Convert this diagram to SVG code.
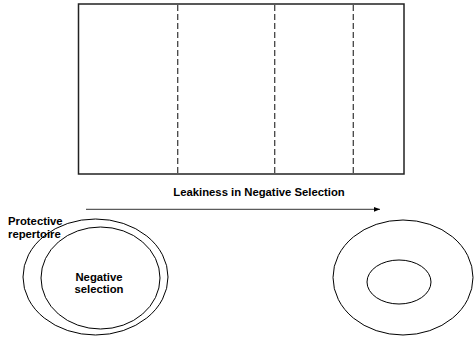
<svg xmlns="http://www.w3.org/2000/svg" width="475" height="347" viewBox="0 0 475 347">
<style>
.lbl{font-family:"Liberation Sans",Arial,sans-serif;font-weight:bold;font-size:11.3px;fill:#000}
.ell{fill:none;stroke:#000;stroke-width:1}
.dash{stroke:#444;stroke-width:1.3;stroke-dasharray:6,3}
</style>
<defs>
<marker id="ah" viewBox="0 0 10 10" refX="10" refY="5" markerWidth="6" markerHeight="6" orient="auto" markerUnits="userSpaceOnUse">
<path d="M0,1 L10,5 L0,9 Z" fill="#000"/>
</marker>
</defs>
<rect width="475" height="347" fill="#fff"/>
<g id="box">
<rect x="78.5" y="4" width="325.5" height="170" fill="#fff" stroke="#222" stroke-width="1.5"/>
<line class="dash" x1="177.7" y1="5" x2="177.7" y2="173"/>
<line class="dash" x1="274.7" y1="5" x2="274.7" y2="173"/>
<line class="dash" x1="353.3" y1="5" x2="353.3" y2="173"/>
</g>
<g id="connectors">
<line x1="86" y1="209.3" x2="380" y2="209.3" stroke="#333" stroke-width="1" marker-end="url(#ah)"/>
</g>
<g id="title">
<text class="lbl" x="259" y="196" text-anchor="middle">Leakiness in Negative Selection</text>
</g>
<g id="left-circle">
<ellipse class="ell" cx="95.5" cy="277" rx="72.5" ry="58"/>
<ellipse class="ell" cx="100.5" cy="278" rx="59.5" ry="51"/>
<text class="lbl" x="99" y="281" text-anchor="middle">Negative</text>
<text class="lbl" x="99" y="293" text-anchor="middle">selection</text>
</g>
<g id="protective-label">
<text class="lbl" x="8" y="225">Protective</text>
<text class="lbl" x="8" y="237.5">repertoire</text>
</g>
<g id="right-circle">
<ellipse class="ell" cx="403" cy="277.5" rx="70" ry="57.5"/>
<ellipse class="ell" cx="399" cy="282" rx="32" ry="22"/>
</g>
</svg>
